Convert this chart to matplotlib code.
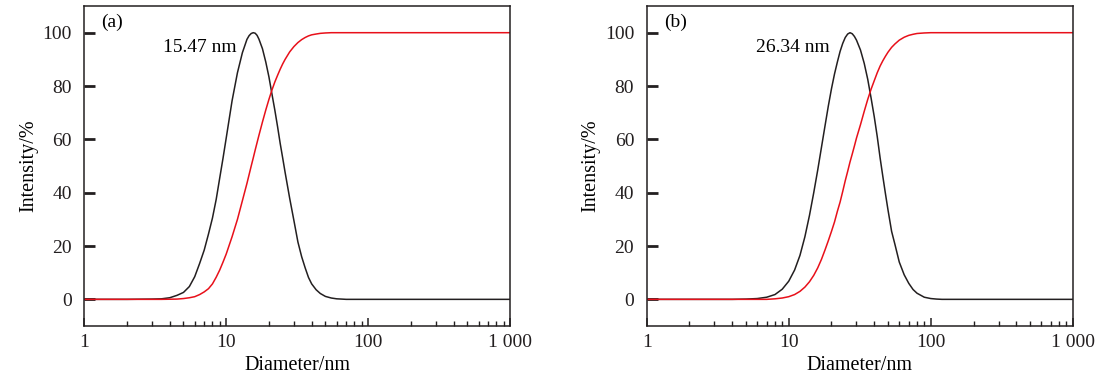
import numpy as np
import matplotlib.pyplot as plt
from matplotlib.ticker import FixedLocator, FixedFormatter, LogLocator, NullFormatter

# particle size distribution
diam_a = [1, 2, 3, 3.5, 4, 4.5, 5, 5.5, 6, 6.5, 7, 7.5, 8, 8.5, 9, 9.5, 10, 11, 12, 13, 14,
          14.5, 15, 15.5, 16, 16.5, 17, 18, 19, 20, 21, 22, 23, 24, 25, 26, 28, 30, 32, 34,
          36, 38, 40, 43, 46, 50, 55, 60, 65, 70, 80, 100, 200, 500, 1000]
dist_a = [0, 0, 0.1, 0.2, 0.6, 1.5, 2.6, 4.8, 8.5, 13.5, 18.5, 24.5, 30.5, 37.5, 45.5, 53, 60.5,
          74.5, 85, 92.5, 97.5, 98.9, 99.7, 100, 99.8, 99.0, 97.6, 94, 89, 83.4, 77, 71, 64.8,
          58.5, 53, 47.6, 37.9, 29.5, 21.5, 16, 11.8, 8.2, 5.8, 3.6, 2.2, 1.1, 0.5, 0.2, 0.1,
          0, 0, 0, 0, 0, 0]
cum_a = [0, 0, 0, 0, 0.05, 0.1, 0.3, 0.6, 1.0, 1.8, 2.8, 4.0, 5.8, 8.3, 11, 14, 17,
         23.5, 30, 37, 43.5, 46.8, 50, 53, 56, 58.8, 61.5, 66.5, 71, 75, 78.5, 81.5, 84,
         86.3, 88.3, 90, 92.8, 94.8, 96.3, 97.4, 98.2, 98.8, 99.2, 99.5, 99.75, 99.9, 100,
         100, 100, 100, 100, 100, 100, 100, 100]

diam_b = [1, 2, 4, 5, 6, 7, 8, 9, 10, 11, 12, 13, 14, 15, 16, 17, 18, 19, 20, 21, 22, 23,
          24, 25, 26, 27, 28, 29, 30, 32, 34, 36, 38, 40, 42, 44, 46, 48, 50, 53, 56, 60,
          65, 70, 75, 80, 90, 100, 110, 120, 200, 500, 1000]
dist_b = [0, 0, 0, 0.1, 0.3, 0.8, 1.8, 3.8, 6.8, 11, 16.5, 23.5, 31.5, 40, 48.5, 57, 65,
          72.5, 79, 84.5, 89, 93, 96, 98.2, 99.5, 100, 99.6, 98.6, 97.2, 93.5, 88.5, 82.5,
          75.5, 68.5, 61, 53, 46, 39.5, 33.5, 25.5, 20.5, 14, 9.2, 6, 3.7, 2.3, 0.8, 0.3,
          0.1, 0, 0, 0, 0]
cum_b = [0, 0, 0, 0, 0, 0, 0.2, 0.5, 1.0, 1.8, 3.0, 4.6, 6.6, 9, 11.8, 15, 18.5, 22, 25.5,
         29, 33, 36.5, 40.5, 44.5, 48, 51.5, 54.5, 57.5, 60.5, 65.5, 70.5, 75, 78.8, 82, 85,
         87.5, 89.5, 91.2, 92.7, 94.5, 95.8, 97.2, 98.3, 99, 99.4, 99.7, 99.9, 100, 100,
         100, 100, 100, 100]

peak_labels = ["15.47 nm", "26.34 nm"]
peak_label_x = [11.9, 19.5]
panel_tags = ["(a)", "(b)"]
x_ticks = [1, 10, 100, 1000]
x_ticklabels = ["1", "10", "100", "1 000"]
y_ticks = [0, 20, 40, 60, 80, 100]

plt.rcParams.update({
    "font.family": "Liberation Serif",
    "font.size": 14,
    "axes.linewidth": 1.1,
    "axes.edgecolor": "#231f20",
})

fig = plt.figure(figsize=(11.06, 3.79), dpi=100)
ax_a = fig.add_axes([0.0762, 0.1398, 0.3850, 0.8443])
ax_b = fig.add_axes([0.5847, 0.1398, 0.3853, 0.8443])

panels = [
    (ax_a, diam_a, dist_a, cum_a),
    (ax_b, diam_b, dist_b, cum_b),
]

for i, (ax, d, dist, cum) in enumerate(panels):
    ax.plot(d, dist, color="#231f20", linewidth=1.1)
    ax.plot(d, cum, color="#e8101a", linewidth=1.1)

    ax.set_xscale("log")
    ax.set_xlim(1, 1000)
    ax.set_ylim(-10, 110)

    ax.xaxis.set_major_locator(FixedLocator(x_ticks))
    ax.xaxis.set_major_formatter(FixedFormatter(x_ticklabels))
    ax.xaxis.set_minor_locator(LogLocator(base=10, subs=np.arange(2, 10)))
    ax.xaxis.set_minor_formatter(NullFormatter())
    ax.set_yticks(y_ticks)

    ax.tick_params(axis="x", which="major", direction="in", length=6, width=1.1,
                   pad=6, top=False, colors="#231f20", labelcolor="#231f20")
    ax.tick_params(axis="x", which="minor", direction="in", length=3.5, width=1.0,
                   top=False, colors="#231f20")
    ax.tick_params(axis="y", which="major", direction="in", length=8, width=2.0,
                   pad=9, right=False, colors="#231f20", labelcolor="#231f20")

    ax.set_xlabel("Diameter/nm", labelpad=3, fontsize=14.5)
    ax.set_ylabel("Intensity/%", labelpad=3, fontsize=14.5)

    ax.text(peak_label_x[i], 94.5, peak_labels[i], ha="right", va="center")
    ax.text(0.04, 0.95, panel_tags[i], transform=ax.transAxes, ha="left", va="center")

fig.savefig("out.png", dpi=100)
